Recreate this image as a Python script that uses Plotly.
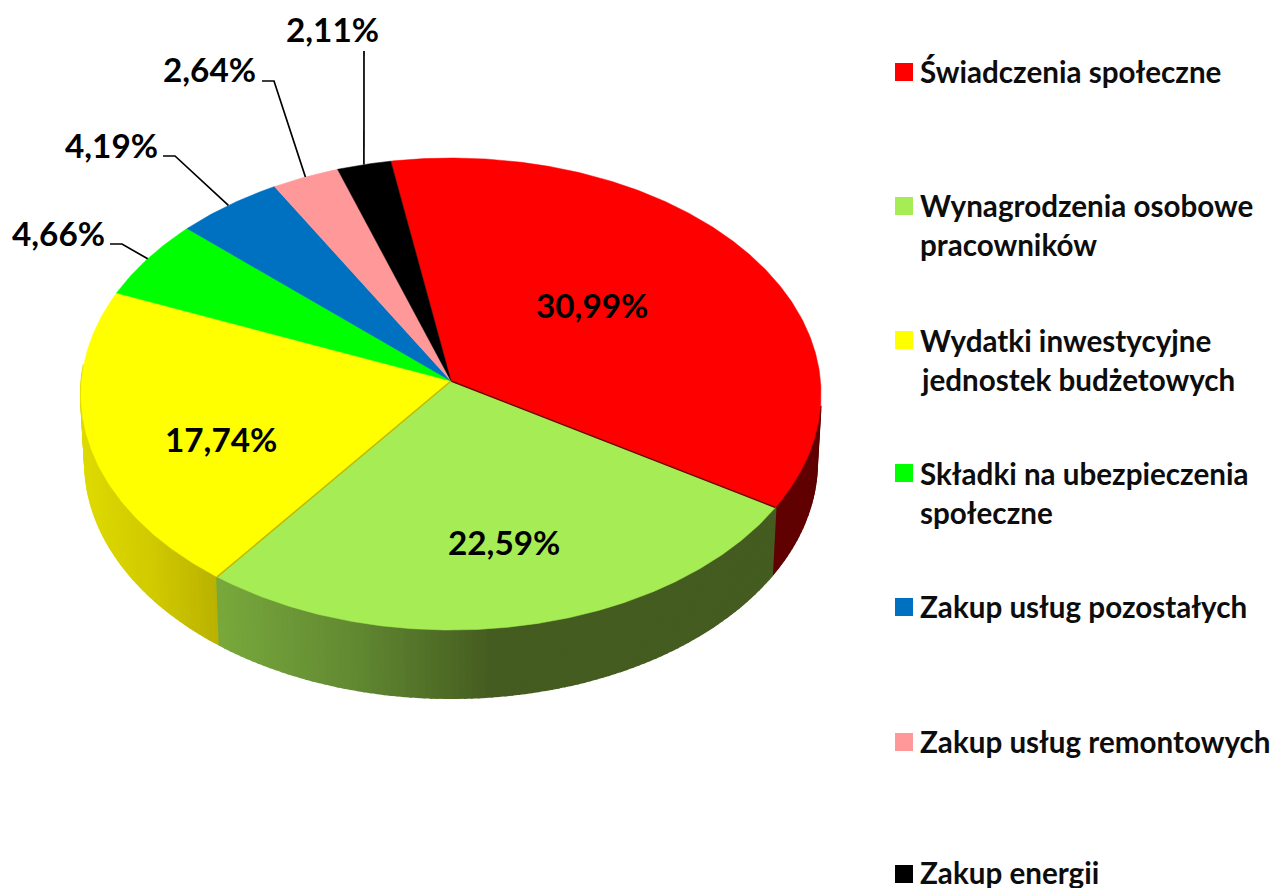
import math
import plotly.graph_objects as go

# ---- data ----
categories = ["Świadczenia społeczne", "Wynagrodzenia osobowe\npracowników",
              "Wydatki inwestycyjne\njednostek budżetowych",
              "Składki na ubezpieczenia\nspołeczne", "Zakup usług pozostałych",
              "Zakup usług remontowych", "Zakup energii"]
values = [30.99, 22.59, 17.74, 4.66, 4.19, 2.64, 2.11]
value_labels = ["30,99%", "22,59%", "17,74%", "4,66%", "4,19%", "2,64%", "2,11%"]
colors = ["#FF0000", "#A6EC54", "#FFFF00", "#00FF00", "#0070C0", "#FF9999", "#000000"]

# ---- style / layout ----
FONT = "Lato"
LABEL_SIZE = 33.3
LEGEND_SIZE = 29.6
CX, CY = 451, 381
RX, RY, K = 369.5, 235.3, 0.0551
DEPTH, BOTTOM_SCALE = 68, 0.989
START = -9.9
label_pos = [(592, 305), (504, 542), (221, 439), (58, 233), (111, 145), (209, 69), (332, 29)]
leader_knots = {3: [(110, 244), (122, 244)], 4: [(163, 156), (175, 156)],
                5: [(262, 81), (274, 81)], 6: [(364, 51)]}
legend_y = [71, 205, 340, 473, 606, 741, 872]
swatch_y = [72, 206, 340, 473, 607, 742, 874]
LINE_GAP = 39
wall_stops = {
    0: [(770, (96, 0, 0)), (825, (96, 0, 0))],
    1: [(218, (120, 168, 60)), (350, (98, 138, 50)), (490, (69, 92, 32)), (780, (69, 92, 32))],
    2: [(80, (222, 218, 0)), (150, (208, 202, 0)), (220, (184, 176, 0))],
}


def top(theta):
    t = math.radians(theta)
    u, v = math.sin(t), -math.cos(t)
    d = 1 - K * v
    return CX + RX * u / d, CY + RY * v / d


def bottom(theta):
    x, y = top(theta)
    return CX + (x - CX) * BOTTOM_SCALE, y + DEPTH


def wall_color(i, x):
    stops = wall_stops[i]
    if x <= stops[0][0]:
        c = stops[0][1]
    elif x >= stops[-1][0]:
        c = stops[-1][1]
    else:
        for (x0, c0), (x1, c1) in zip(stops, stops[1:]):
            if x0 <= x <= x1:
                f = (x - x0) / (x1 - x0)
                c = tuple(a + (b - a) * f for a, b in zip(c0, c1))
                break
    return "rgb(%d,%d,%d)" % tuple(round(a) for a in c)


total = sum(values)
edges = [START]
for val in values:
    edges.append(edges[-1] + val / total * 360)


def arc(a, b, step=0.5):
    n = max(2, int(abs(b - a) / step))
    return [a + (b - a) * j / n for j in range(n + 1)]


fig = go.Figure()


def poly(xs, ys, color, lw=1.0):
    fig.add_trace(go.Scatter(x=xs, y=ys, mode="lines", fill="toself", fillcolor=color,
                             line=dict(color=color, width=lw), hoverinfo="skip",
                             showlegend=False))


# side wall, drawn as thin vertical strips
for i in (0, 2, 1):
    a = max(edges[i], 96)
    b = min(edges[i + 1], 274)
    th = arc(a, b, 1.0)
    for t0, t1 in zip(th, th[1:]):
        p = [top(t0), top(t1), bottom(t1), bottom(t0)]
        col = wall_color(i, (p[0][0] + p[1][0]) / 2)
        poly([q[0] for q in p] + [p[0][0]], [q[1] for q in p] + [p[0][1]], col, 2.0)

# top face
for i, col in enumerate(colors):
    pts = [top(t) for t in arc(edges[i], edges[i + 1])]
    poly([CX] + [q[0] for q in pts] + [CX], [CY] + [q[1] for q in pts] + [CY], col, 0.5)

# darker seams on the slice borders
for edge, col in ((edges[1], "#6E0000"), (edges[2], "#BDB800")):
    x, y = top(edge)
    fig.add_trace(go.Scatter(x=[CX, x], y=[CY, y], mode="lines",
                             line=dict(color=col, width=1.5), hoverinfo="skip", showlegend=False))

# leader lines
for i, knots in leader_knots.items():
    x, y = top((edges[i] + edges[i + 1]) / 2)
    fig.add_trace(go.Scatter(x=[k[0] for k in knots] + [x], y=[k[1] for k in knots] + [y],
                             mode="lines", line=dict(color="#000000", width=1.7),
                             hoverinfo="skip", showlegend=False))

# value labels
for text, (x, y) in zip(value_labels, label_pos):
    fig.add_annotation(x=x, y=y, text="<b>%s</b>" % text, showarrow=False, xanchor="center",
                       yanchor="middle", font=dict(family=FONT, size=LABEL_SIZE, color="#000000"))

# legend
fig.add_trace(go.Scatter(x=[904] * len(categories), y=swatch_y,
                         mode="markers",
                         marker=dict(symbol="square", size=18, color=colors,
                                     line=dict(width=0)),
                         hoverinfo="skip", showlegend=False, cliponaxis=False))
for name, y in zip(categories, legend_y):
    for j, line in enumerate(name.split("\n")):
        fig.add_annotation(x=918, y=y + j * LINE_GAP, text="<b>%s</b>" % line, showarrow=False,
                           xanchor="left", yanchor="middle",
                           font=dict(family=FONT, size=LEGEND_SIZE, color="#0D0D0D"))

fig.update_layout(width=1274, height=888, margin=dict(l=0, r=0, t=0, b=0),
                  paper_bgcolor="#FFFFFF", plot_bgcolor="#FFFFFF", showlegend=False,
                  xaxis=dict(range=[0, 1274], visible=False, fixedrange=True),
                  yaxis=dict(range=[888, 0], visible=False, fixedrange=True))
fig.write_html("out.html", config={"displayModeBar": False},
               post_script="document.body.style.margin='0';")
